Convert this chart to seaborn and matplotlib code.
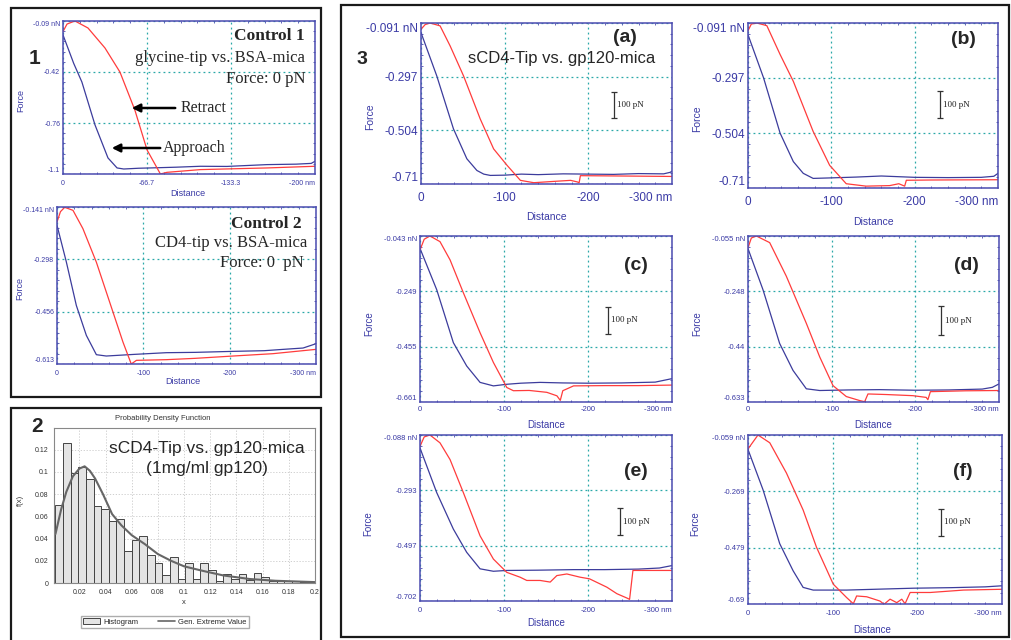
import numpy as np
import pandas as pd
import seaborn as sns
import matplotlib.pyplot as plt
from matplotlib.patches import Rectangle, Patch
from matplotlib.lines import Line2D
from matplotlib.ticker import AutoMinorLocator

W, H = 1011, 640

# ---------------- data (distance in nm, force in nN) ----------------
# Control 1: glycine-tip vs BSA-mica
c1_app_x = [0, -8.5, -15, -25.4, -35.7, -42.9, -48.2, -60, -69.3, -90, -109, -130, -162, -185, -197, -200]
c1_app_y = [-0.182, -0.370, -0.493, -0.776, -0.994, -1.060, -1.067, -1.062, -1.060, -1.055, -1.049, -1.050, -1.038, -1.035, -1.030, -1.016]
c1_ret_x = [0, -3.2, -9.5, -19.8, -33.3, -45.2, -57, -66.7, -77.3, -82.5, -109, -162, -200]
c1_ret_y = [-0.160, -0.110, -0.090, -0.136, -0.268, -0.427, -0.677, -0.941, -1.100, -1.089, -1.071, -1.060, -1.049]

# Control 2: CD4-tip vs BSA-mica
c2_app_x = [0, -10.8, -22.4, -34, -45.6, -57.1, -90, -126.6, -160, -204, -240, -262, -285, -300]
c2_app_y = [-0.196, -0.306, -0.437, -0.527, -0.585, -0.589, -0.584, -0.579, -0.578, -0.575, -0.573, -0.569, -0.565, -0.552]
c2_ret_x = [0, -4, -8.9, -18.5, -30, -45.6, -61, -76.4, -86, -92, -126.6, -160, -204, -250, -300]
c2_ret_y = [-0.186, -0.155, -0.142, -0.151, -0.206, -0.307, -0.427, -0.547, -0.613, -0.602, -0.600, -0.596, -0.589, -0.582, -0.569]

# (a)
a_app_x = [0, -18.8, -38.8, -54.8, -66.8, -75, -82.8, -100, -120, -140, -170, -200, -230, -260, -290, -298, -301]
a_app_y = [-0.128, -0.294, -0.498, -0.613, -0.658, -0.672, -0.677, -0.676, -0.672, -0.674, -0.671, -0.672, -0.673, -0.670, -0.671, -0.665, -0.658]
a_ret_x = [0, -5, -10.8, -22.8, -34.8, -50.8, -70.8, -86.8, -102.8, -118.8, -134.8, -158.8, -178.8, -186.8, -189, -190.5, -230, -301]
a_ret_y = [-0.115, -0.097, -0.091, -0.102, -0.179, -0.294, -0.460, -0.575, -0.638, -0.696, -0.705, -0.700, -0.696, -0.702, -0.705, -0.678, -0.679, -0.681]

# (b)
b_app_x = [0, -18.7, -38.5, -54.4, -66.3, -78.2, -100, -130, -160, -200, -240, -280, -295, -300]
b_app_y = [-0.135, -0.297, -0.504, -0.611, -0.655, -0.674, -0.672, -0.669, -0.665, -0.670, -0.671, -0.670, -0.666, -0.655]
b_ret_x = [0, -4, -10.7, -22.6, -38.5, -54.4, -78.2, -98, -117.9, -141.7, -170, -181, -188, -190, -220, -300]
b_ret_y = [-0.120, -0.095, -0.091, -0.101, -0.209, -0.310, -0.498, -0.625, -0.694, -0.703, -0.701, -0.694, -0.703, -0.681, -0.680, -0.679]

# (c)
c_app_x = [0, -19.9, -39.7, -55.6, -71.5, -87.4, -103.3, -120, -143, -170, -200, -240, -280, -300]
c_app_y = [-0.089, -0.243, -0.440, -0.527, -0.588, -0.601, -0.595, -0.591, -0.588, -0.590, -0.591, -0.590, -0.587, -0.574]
c_ret_x = [0, -5, -11.9, -23.8, -35.8, -51.7, -71.5, -87.4, -103.3, -111.2, -130, -151, -163, -167, -170, -182.8, -220, -260, -300]
c_ret_y = [-0.095, -0.055, -0.043, -0.064, -0.132, -0.255, -0.403, -0.514, -0.607, -0.619, -0.618, -0.625, -0.638, -0.655, -0.619, -0.601, -0.600, -0.600, -0.598]

# (d)
d_app_x = [0, -17.9, -37.8, -53.8, -69.7, -85.7, -120, -157, -200, -240, -280, -292, -300]
d_app_y = [-0.099, -0.242, -0.429, -0.523, -0.587, -0.593, -0.591, -0.590, -0.592, -0.591, -0.588, -0.582, -0.570]
d_ret_x = [0, -4, -10, -25.9, -45.8, -69.7, -85.7, -101.6, -117.5, -133.5, -139.4, -143.4, -165.3, -197.2, -213, -215, -218, -260, -300]
d_ret_y = [-0.096, -0.062, -0.055, -0.078, -0.195, -0.359, -0.476, -0.576, -0.614, -0.628, -0.632, -0.605, -0.607, -0.611, -0.617, -0.625, -0.597, -0.594, -0.593]

# (e)
e_app_x = [0, -19.9, -39.7, -55.6, -71.5, -87.4, -103.3, -140, -182.8, -220, -260, -285, -300]
e_app_y = [-0.136, -0.301, -0.436, -0.522, -0.583, -0.592, -0.589, -0.588, -0.586, -0.586, -0.584, -0.580, -0.571]
e_ret_x = [0, -5, -11.9, -23.8, -35.8, -51.6, -71.5, -87.4, -103.3, -119.2, -127.1, -143, -155, -162.9, -174.8, -190.7, -201.8, -222.5, -234.4, -246.3, -249.5, -253.5, -300]
e_ret_y = [-0.130, -0.095, -0.088, -0.117, -0.179, -0.301, -0.461, -0.547, -0.596, -0.614, -0.626, -0.626, -0.632, -0.608, -0.602, -0.614, -0.620, -0.651, -0.675, -0.691, -0.696, -0.589, -0.589]

# (f)
f_app_x = [0, -17.8, -37.5, -53.3, -65.1, -77, -116.5, -150, -195.4, -240, -280, -300]
f_app_y = [-0.113, -0.264, -0.465, -0.566, -0.628, -0.638, -0.638, -0.635, -0.631, -0.629, -0.626, -0.622]
f_ret_x = [0, -11.8, -25.7, -45.4, -65.1, -80.9, -100.7, -116.5, -124.4, -128.3, -140.2, -155.9, -160.7, -167.8, -175.7, -181.6, -185.5, -191.5, -215.2, -254.6, -300]
f_ret_y = [-0.111, -0.059, -0.088, -0.201, -0.339, -0.478, -0.616, -0.666, -0.689, -0.660, -0.663, -0.679, -0.691, -0.672, -0.685, -0.672, -0.689, -0.647, -0.647, -0.638, -0.635]

# Histogram of unbinding forces (panel 2)
hist_start = 0.0017
hist_width = 0.00583
hist_heights = [0.0705, 0.126, 0.099, 0.104, 0.094, 0.069, 0.067, 0.056, 0.058, 0.029,
                0.039, 0.042, 0.025, 0.018, 0.007, 0.023, 0.004, 0.018, 0.004, 0.018,
                0.012, 0.002, 0.008, 0.004, 0.008, 0.003, 0.009, 0.005, 0.002, 0.002,
                0.0015, 0.0015, 0.001, 0.001]
gev_x = [0.0017, 0.006, 0.010, 0.015, 0.020, 0.024, 0.028, 0.032, 0.038, 0.045, 0.052,
         0.060, 0.070, 0.080, 0.090, 0.100, 0.114, 0.130, 0.150, 0.170, 0.200]
gev_y = [0.044, 0.066, 0.082, 0.096, 0.103, 0.105, 0.101, 0.094, 0.080, 0.062, 0.052,
         0.043, 0.035, 0.026, 0.020, 0.015, 0.011, 0.0068, 0.0036, 0.002, 0.0008]

# ---------------- style ----------------
sns.set_theme(style='white')
plt.rcParams['font.family'] = ['Liberation Sans', 'DejaVu Sans']

APP = '#3c3c9c'
RET = '#ff3c3c'
AXC = '#4b4bb0'
TXT = '#3a3aa5'
GRID = '#2aa8a8'
SERIF = ['Liberation Serif', 'DejaVu Serif']

fig = plt.figure(figsize=(W / 100, H / 100), dpi=100)
fig.patch.set_facecolor('white')


def fxy(x, y):
    return x / W, 1 - y / H


def add_ax(l, t, r, b):
    return fig.add_axes([l / W, 1 - b / H, (r - l) / W, (b - t) / H])


def force_panel(rect, app_x, app_y, ret_x, ret_y, x_end, xlabels, y_top, y_bot, ylabels,
                tick_fs, lab_fs, force_xy, dist_xy, bar=None, xpad=3):
    ax = add_ax(*rect)
    sns.lineplot(x=app_x, y=app_y, sort=False, estimator=None, color=APP, lw=0.9, ax=ax)
    sns.lineplot(x=ret_x, y=ret_y, sort=False, estimator=None, color=RET, lw=0.9, ax=ax)
    ax.set_xlim(0, x_end)
    ax.set_ylim(y_bot, y_top)
    ax.set_xticks(np.linspace(0, x_end, 4), xlabels)
    ax.set_yticks(np.linspace(y_top, y_bot, 4), ylabels)
    ax.xaxis.set_minor_locator(AutoMinorLocator(5))
    ax.yaxis.set_minor_locator(AutoMinorLocator(5))
    ax.grid(True, which='major', color=GRID, ls=(0, (1.5, 2.5)), lw=0.9)
    for s in ax.spines.values():
        s.set_color(AXC)
        s.set_linewidth(1.1)
    ax.tick_params(which='major', direction='in', length=3, width=0.8, color=AXC,
                   labelcolor=TXT, labelsize=tick_fs)
    ax.tick_params(which='minor', direction='in', length=1.6, width=0.6, color=AXC,
                   top=True, right=True, bottom=True, left=True)
    ax.tick_params(axis='x', pad=xpad)
    ax.tick_params(axis='y', pad=2)
    xl = ax.get_xticklabels()
    xl[-1].set_ha('right')
    yl = ax.get_yticklabels()
    yl[0].set_va('top')
    yl[-1].set_va('bottom')
    ax.set_xlabel('')
    ax.set_ylabel('')
    fig.text(*fxy(*force_xy), 'Force', rotation=90, color=TXT, fontsize=lab_fs,
             ha='center', va='center')
    fig.text(*fxy(*dist_xy), 'Distance', color=TXT, fontsize=lab_fs,
             ha='center', va='center')
    if bar is not None:
        bx, by = bar
        ax.errorbar([bx], [by], yerr=0.05, color='#333333', capsize=2.2, lw=0.9,
                    capthick=0.9)
        ax.text(bx - 4, by, '100 pN', family=SERIF, fontsize=6.5, color='#222222',
                ha='left', va='center')
    return ax


x300 = ['0', '-100', '-200', '-300 nm']

# Panel 1
ax1 = force_panel((63, 21, 315, 174), c1_app_x, c1_app_y, c1_ret_x, c1_ret_y, -200,
                  ['0', '-66.7', '-133.3', '-200 nm'], -0.09, -1.1,
                  ['-0.09 nN', '-0.42', '-0.76', '-1.1'], 5, 6.5, (21, 100), (188, 193),
                  xpad=4)
ax2 = force_panel((57, 207, 316, 364), c2_app_x, c2_app_y, c2_ret_x, c2_ret_y, -300,
                  x300, -0.141, -0.613, ['-0.141 nN', '-0.298', '-0.456', '-0.613'],
                  5, 6.5, (20, 288), (183, 381), xpad=4)

# Panel 3
force_panel((421, 23, 672, 184), a_app_x, a_app_y, a_ret_x, a_ret_y, -300, x300,
            -0.091, -0.71, ['-0.091 nN', '-0.297', '-0.504', '-0.71'], 8.5, 7.5,
            (370, 117), (546, 217), bar=(-230.8, -0.407), xpad=6)
force_panel((748, 23, 998, 188), b_app_x, b_app_y, b_ret_x, b_ret_y, -300, x300,
            -0.091, -0.71, ['-0.091 nN', '-0.297', '-0.504', '-0.71'], 8.5, 7.5,
            (697, 119), (873, 222), bar=(-229.8, -0.397), xpad=6)
force_panel((420, 236, 672, 402), c_app_x, c_app_y, c_ret_x, c_ret_y, -300, x300,
            -0.043, -0.661, ['-0.043 nN', '-0.249', '-0.455', '-0.661'], 5.5, 7,
            (369, 324), (546, 425), bar=(-223.7, -0.356))
force_panel((748, 236, 999, 402), d_app_x, d_app_y, d_ret_x, d_ret_y, -300, x300,
            -0.055, -0.633, ['-0.055 nN', '-0.248', '-0.44', '-0.633'], 5.5, 7,
            (697, 324), (873, 425), bar=(-231, -0.350))
force_panel((420, 435, 672, 601), e_app_x, e_app_y, e_ret_x, e_ret_y, -300, x300,
            -0.088, -0.702, ['-0.088 nN', '-0.293', '-0.497', '-0.702'], 5.5, 7,
            (368, 524), (546, 623), bar=(-237.6, -0.408), xpad=4)
force_panel((748, 435, 1002, 604), f_app_x, f_app_y, f_ret_x, f_ret_y, -300, x300,
            -0.059, -0.69, ['-0.059 nN', '-0.269', '-0.479', '-0.69'], 5.5, 7,
            (695, 524), (872, 630), bar=(-228, -0.385), xpad=4)

# Panel 2: histogram
axh = add_ax(54, 428, 315, 583)
edges = [hist_start + hist_width * i for i in range(len(hist_heights) + 1)]
hist_df = pd.DataFrame({'force': [e + hist_width / 2 for e in edges[:-1]],
                        'density': hist_heights})
sns.histplot(data=hist_df, x='force', weights='density', bins=edges, color='#e4e4e4',
             alpha=1, edgecolor='#444444', linewidth=0.7, ax=axh)
sns.lineplot(x=gev_x, y=gev_y, sort=False, estimator=None, color='#666666', lw=1.5, ax=axh)
axh.set_xlim(0.0006, 0.2)
axh.set_ylim(0, 0.1395)
axh.set_xticks([0.02, 0.04, 0.06, 0.08, 0.1, 0.12, 0.14, 0.16, 0.18, 0.2],
               ['0.02', '0.04', '0.06', '0.08', '0.1', '0.12', '0.14', '0.16', '0.18', '0.2'])
axh.set_yticks([0, 0.02, 0.04, 0.06, 0.08, 0.1, 0.12],
               ['0', '0.02', '0.04', '0.06', '0.08', '0.1', '0.12'])
axh.grid(True, color='#c8c8c8', ls=(0, (1.5, 2)), lw=0.6)
axh.set_axisbelow(True)
for s in axh.spines.values():
    s.set_color('#888888')
    s.set_linewidth(0.8)
axh.tick_params(direction='out', length=2, width=0.6, color='#666666', labelsize=5,
                labelcolor='#333333', pad=2)
axh.set_xlabel('')
axh.set_ylabel('')
fig.text(*fxy(163, 419), 'Probability Density Function', fontsize=5.5, color='#333333',
         ha='center', va='center')
fig.text(*fxy(20, 500), 'f(x)', fontsize=5.5, color='#333333', rotation=90,
         ha='center', va='center')
fig.text(*fxy(184, 602), 'x', fontsize=5.5, color='#333333', ha='center', va='center')
handles = [Patch(facecolor='#e4e4e4', edgecolor='#444444', lw=0.7, label='Histogram'),
           Line2D([0], [0], color='#666666', lw=1.2, label='Gen. Extreme Value')]
fig.legend(handles=handles, loc='center', bbox_to_anchor=fxy(165, 622), ncol=2,
           fontsize=5.5, frameon=True, fancybox=False, edgecolor='#999999',
           handlelength=2.2, columnspacing=2.5, borderpad=0.3, handletextpad=0.5)

# ---------------- annotations ----------------
fig.text(*fxy(34, 58), '1', fontsize=15, fontweight='bold', ha='center', va='center')
fig.text(*fxy(305, 36), 'Control 1', family=SERIF, fontsize=12.5, fontweight='bold',
         ha='right', va='center')
fig.text(*fxy(305, 58), 'glycine-tip vs. BSA-mica', family=SERIF, fontsize=12,
         ha='right', va='center')
fig.text(*fxy(305, 79), 'Force: 0 pN', family=SERIF, fontsize=12, ha='right', va='center')
fig.text(*fxy(181, 108), 'Retract', family=SERIF, fontsize=11.5, ha='left', va='center')
fig.text(*fxy(163, 148), 'Approach', family=SERIF, fontsize=11.5, ha='left', va='center')
fig.add_artist(plt.Annotation('', xy=fxy(129, 108), xytext=fxy(178, 108),
                              xycoords='figure fraction', textcoords='figure fraction',
                              arrowprops=dict(arrowstyle='-|>', lw=1.8, color='black',
                                              mutation_scale=12)))
fig.add_artist(plt.Annotation('', xy=fxy(109, 148), xytext=fxy(163, 148),
                              xycoords='figure fraction', textcoords='figure fraction',
                              arrowprops=dict(arrowstyle='-|>', lw=1.8, color='black',
                                              mutation_scale=12)))

fig.text(*fxy(302, 224), 'Control 2', family=SERIF, fontsize=12.5, fontweight='bold',
         ha='right', va='center')
fig.text(*fxy(307, 243), 'CD4-tip vs. BSA-mica', family=SERIF, fontsize=12,
         ha='right', va='center')
fig.text(*fxy(304, 263), 'Force: 0  pN', family=SERIF, fontsize=12, ha='right', va='center')

fig.text(*fxy(37, 427), '2', fontsize=15, fontweight='bold', ha='center', va='center')
fig.text(*fxy(207, 448), 'sCD4-Tip vs. gp120-mica', fontsize=12.5, ha='center', va='center')
fig.text(*fxy(207, 469), '(1mg/ml gp120)', fontsize=12.5, ha='center', va='center')

fig.text(*fxy(362, 59), '3', fontsize=14, fontweight='bold', ha='center', va='center')
fig.text(*fxy(562, 59), 'sCD4-Tip vs. gp120-mica', fontsize=12, ha='center', va='center')
for lab, x, y in [('(a)', 625, 38), ('(b)', 963, 40), ('(c)', 636, 265),
                  ('(d)', 966, 265), ('(e)', 636, 472), ('(f)', 963, 472)]:
    fig.text(*fxy(x, y), lab, fontsize=14, fontweight='bold', ha='center', va='center')

# panel frames
for (l, t, r, b) in [(11, 8, 321, 397), (11, 408, 321, 646), (341, 5, 1009, 637)]:
    fig.add_artist(Rectangle(fxy(l, b), (r - l) / W, (b - t) / H, fill=False,
                             edgecolor='#1a1a1a', lw=1.6, transform=fig.transFigure))

fig.savefig('out.png', dpi=100, facecolor='white')
